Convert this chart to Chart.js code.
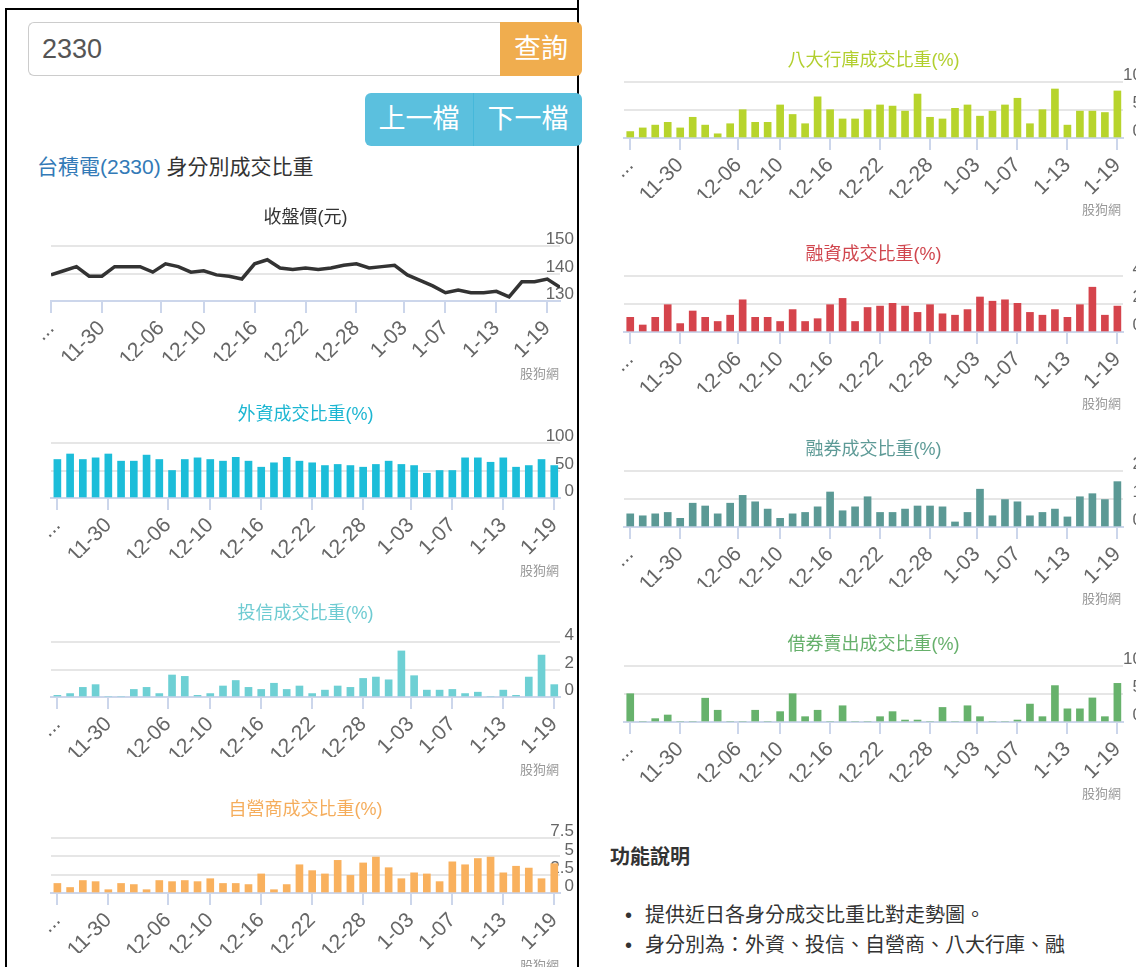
<!DOCTYPE html>
<html><head><meta charset="utf-8">
<script src="https://cdn.jsdelivr.net/npm/chart.js@4.4.1/dist/chart.umd.min.js"></script>
<style>
html,body{margin:0;padding:0;background:#fff;}
body{width:1136px;height:967px;overflow:hidden;position:relative;font-family:"Liberation Sans","Noto Sans CJK TC",sans-serif;}
.abs{position:absolute;}
#frameTop{left:5px;top:8px;width:573px;height:2px;background:#000;}
#frameLeft{left:5px;top:8px;width:2px;height:959px;background:#000;}
#divider{left:577px;top:0;width:2px;height:967px;background:#000;}
#input{left:28px;top:22px;width:472px;height:54px;box-sizing:border-box;border:1px solid #ccc;border-right:none;border-radius:6px 0 0 6px;font-size:27px;color:#555;line-height:52px;padding-left:13px;background:#fff;}
#query{left:500px;top:22px;width:82px;height:54px;background:#f0ad4e;border-radius:0 6px 6px 0;color:#fff;font-size:27px;line-height:54px;text-align:center;z-index:2;}
#btns{left:365px;top:93px;width:217px;height:53px;background:#5bc0de;border-radius:6px;color:#fff;font-size:27px;line-height:53px;z-index:2;}
#btns span{position:absolute;top:0;width:108px;text-align:center;}
#btnSep{position:absolute;left:108px;top:0;width:1px;height:53px;background:#46b8da;}
#heading{left:37px;top:152px;font-size:21px;line-height:30px;color:#333;white-space:nowrap;}
#heading .name{color:#337ab7;}
.credit{font-size:13px;color:#999;line-height:18px;white-space:nowrap;}
canvas.chart{position:absolute;}
#fnTitle{left:610px;top:843px;font-size:20px;font-weight:bold;color:#333;line-height:28px;}
.bullet{left:625px;font-size:20px;color:#333;line-height:28px;white-space:nowrap;}
.bullet b{display:inline-block;width:20px;font-weight:normal;}
</style></head>
<body>
<div id="frameTop" class="abs"></div>
<div id="frameLeft" class="abs"></div>
<div id="divider" class="abs"></div>
<div id="input" class="abs">2330</div>
<div id="query" class="abs">查詢</div>
<div id="btns" class="abs"><span style="left:0">上一檔</span><div id="btnSep"></div><span style="left:109px">下一檔</span></div>
<div id="heading" class="abs"><span class="name">台積電(2330)</span> 身分別成交比重</div>
<div id="fnTitle" class="abs">功能說明</div>
<div class="abs bullet" style="top:901px"><b>•</b>提供近日各身分成交比重比對走勢圖。</div>
<div class="abs bullet" style="top:931px"><b>•</b>身分別為：外資、投信、自營商、八大行庫、融</div>
<script>
// ---------- data ----------
const tradeDates = ['2015-11-24','2015-11-25','2015-11-26','2015-11-27','2015-11-30','2015-12-01','2015-12-02','2015-12-03','2015-12-04','2015-12-07',
  '2015-12-08','2015-12-09','2015-12-10','2015-12-11','2015-12-14','2015-12-15','2015-12-16','2015-12-17','2015-12-18','2015-12-21',
  '2015-12-22','2015-12-23','2015-12-24','2015-12-25','2015-12-28','2015-12-29','2015-12-30','2015-12-31','2016-01-04','2016-01-05',
  '2016-01-06','2016-01-07','2016-01-08','2016-01-11','2016-01-12','2016-01-13','2016-01-14','2016-01-15','2016-01-18','2016-01-19','2016-01-20'];
const tickDates = ['2015-11-24','2015-11-30','2015-12-06','2015-12-10','2015-12-16','2015-12-22','2015-12-28','2016-01-03','2016-01-07','2016-01-13','2016-01-19'];
const tickLabels = ['...','11-30','12-06','12-10','12-16','12-22','12-28','1-03','1-07','1-13','1-19'];

const closePrice = [139.5,141,142.5,139,139,142.5,142.5,142.5,140.5,143.5,142.5,140.5,141,139.5,139,138,143.5,145,142,141.5,
  142,141.5,142,143,143.5,142,142.5,143,139.5,137.5,135.5,133,134,133,133,133.5,131.5,137,137,138,135];
const foreignPct = [70,80,70,73,80,67,67,78,70,50,70,73,70,67,74,67,56,64,74,67,64,59,61,59,56,61,67,61,59,45,50,50,73,73,65,73,56,59,70,59];
const trustPct = [0.12,0.25,0.7,0.9,0,0,0.55,0.7,0.25,1.6,1.5,0.12,0.25,0.8,1.2,0.7,0.55,1.0,0.55,0.8,0.25,0.5,0.8,0.7,1.35,1.45,1.25,3.35,1.55,0.5,0.5,0.55,0.25,0.35,0,0.5,0.12,1.45,3.05,0.9];
const dealerPct = [1.3,0.75,1.7,1.55,0.45,1.3,1.15,0.45,1.7,1.55,1.7,1.55,1.95,1.3,1.3,1.15,2.6,0.45,1.15,3.85,3.05,2.6,4.45,2.4,4.1,4.9,3.45,1.95,2.75,2.6,1.55,4.25,3.85,4.7,4.9,2.75,3.65,3.4,1.95,4.0];
const bank8Pct = [1.15,1.8,2.3,2.8,1.8,3.7,2.3,0.75,2.55,5.05,2.8,2.8,5.9,4.2,2.55,7.35,5.05,3.4,3.4,5.05,5.9,5.7,4.8,7.85,3.7,3.4,5.3,5.9,3.9,4.8,5.9,7.1,2.55,5.05,8.75,2.3,4.8,4.8,4.55,8.4];
const marginPct = [1.05,0.5,1.05,1.95,0.6,1.5,1.05,0.75,1.2,2.3,1.05,1.05,0.75,1.6,0.75,0.95,1.95,2.4,0.75,1.75,1.85,2.05,1.85,1.4,1.95,1.3,1.2,1.6,2.5,2.2,2.3,2.05,1.4,1.2,1.6,1.05,1.95,3.2,1.2,1.85];
const shortPct = [0.47,0.4,0.47,0.52,0.31,0.85,0.75,0.47,0.85,1.13,0.9,0.64,0.31,0.47,0.52,0.72,1.25,0.58,0.72,1.08,0.52,0.52,0.64,0.75,0.75,0.72,0.18,0.52,1.35,0.4,0.98,0.9,0.4,0.52,0.64,0.36,1.08,1.19,0.98,1.62];
const sblPct = [5.05,0,0.6,1.25,0,0,4.25,2.1,0,0,2.1,0,1.85,5.05,0.95,2.1,0,2.9,0,0,0.95,1.85,0.35,0.35,0,2.6,0,2.9,0.95,0,0,0.35,3.2,0.95,6.5,2.35,2.35,4.3,0.95,6.9];

// ---------- helpers ----------
function dayNum(s){const p=s.split('-').map(Number);return Date.UTC(p[0],p[1]-1,p[2])/864e5;}
function ordinalPos(s){
  const t=dayNum(s);
  for(let i=0;i<tradeDates.length;i++){
    const a=dayNum(tradeDates[i]);
    if(a===t) return i;
    if(i+1<tradeDates.length){const b=dayNum(tradeDates[i+1]); if(t>a&&t<b) return i+(t-a)/(b-a);}
  }
  return 0;
}
const tickPos = tickDates.map(ordinalPos);
const FAM = '"Liberation Sans","Noto Sans CJK TC",sans-serif';
const X_AXIS_H = 60, EXTRA_BOTTOM = 30;

function makeChart(spec){
  const cv=document.createElement('canvas');
  cv.className='chart';
  cv.width=spec.w; cv.height=spec.plotBottom+15+X_AXIS_H+EXTRA_BOTTOM;
  cv.style.left=spec.left+'px'; cv.style.top=(spec.tc-15)+'px';
  document.body.appendChild(cv);
  const cr=document.createElement('div');
  cr.className='abs credit'; cr.textContent='股狗網';
  cr.style.left=spec.creditLeft+'px'; cr.style.top=(spec.tc+spec.creditOff)+'px';
  document.body.appendChild(cr);
  const isLine = spec.type==='line';
  const pts = spec.values.map((v,i)=>({x:i,y:v}));
  new Chart(cv,{
    type:spec.type,
    data:{datasets:[{data:pts,backgroundColor:spec.color,borderColor:spec.color,
      borderWidth:isLine?3.5:0,pointRadius:0,tension:0,barThickness:7}]},
    options:{
      responsive:false,animation:false,devicePixelRatio:1,
      layout:{padding:{left:46,right:0,top:0,bottom:EXTRA_BOTTOM}},
      plugins:{legend:{display:false},tooltip:{enabled:false},
        title:{display:true,text:spec.title,color:spec.titleColor,fullSize:false,
          font:{size:18,family:FAM,weight:'normal',lineHeight:'22px'},padding:{top:4,bottom:spec.plotTop-11}}},
      scales:{
        x:{type:'linear',min:isLine?0:-0.5,max:isLine?tradeDates.length-1:39.45,offset:false,
          afterBuildTicks:s=>{s.ticks=tickPos.map(v=>({value:v}));},
          afterFit:s=>{s.height=X_AXIS_H;},
          ticks:{autoSkip:false,minRotation:45,maxRotation:45,padding:3,color:'#666',
            font:{size:21,family:FAM},callback:(v,i)=>tickLabels[i]},
          grid:{drawOnChartArea:false,drawTicks:true,tickLength:12,color:'#ccd6eb',lineWidth:2,offset:false},
          border:{display:true,color:'#ccd6eb',width:2}},
        y:{position:'right',min:spec.yTicks[0],max:spec.yTicks[spec.yTicks.length-1],
          afterBuildTicks:s=>{s.ticks=spec.yTicks.map(v=>({value:v}));},
          afterFit:s=>{s.width=spec.yW;},
          ticks:{autoSkip:false,mirror:true,padding:spec.yW-3,labelOffset:-6.5,color:'#666',font:{size:17,family:FAM}},
          grid:{color:'#e6e6e6',lineWidth:2,drawTicks:false},
          border:{display:false}}
      }
    }
  });
}

const L={left:5,w:572,yW:17,creditLeft:520,plotTop:28,plotBottom:83,creditOff:147};
const R={left:578,w:567,yW:22,creditLeft:1082,plotTop:21,plotBottom:77,creditOff:140};
makeChart(Object.assign({},L,{tc:218,type:'line',values:closePrice,color:'#333',title:'收盤價(元)',titleColor:'#333',yTicks:[130,140,150]}));
makeChart(Object.assign({},L,{tc:415,type:'bar',values:foreignPct,color:'#1cbdd9',title:'外資成交比重(%)',titleColor:'#1cb6d2',yTicks:[0,50,100]}));
makeChart(Object.assign({},L,{tc:614,type:'bar',values:trustPct,color:'#6ed0d4',title:'投信成交比重(%)',titleColor:'#6ecbd2',yTicks:[0,2,4]}));
makeChart(Object.assign({},L,{tc:810,type:'bar',values:dealerPct,color:'#f9b15e',title:'自營商成交比重(%)',titleColor:'#f5ad5c',yTicks:[0,2.5,5,7.5]}));
makeChart(Object.assign({},R,{tc:61,type:'bar',values:bank8Pct,color:'#b7d42c',title:'八大行庫成交比重(%)',titleColor:'#b2cf2e',yTicks:[0,5,10]}));
makeChart(Object.assign({},R,{tc:255,type:'bar',values:marginPct,color:'#d5444c',title:'融資成交比重(%)',titleColor:'#d0464e',yTicks:[0,2,4]}));
makeChart(Object.assign({},R,{tc:450,type:'bar',values:shortPct,color:'#5b9995',title:'融券成交比重(%)',titleColor:'#5d9a96',yTicks:[0,1,2]}));
makeChart(Object.assign({},R,{tc:645,type:'bar',values:sblPct,color:'#67b26c',title:'借券賣出成交比重(%)',titleColor:'#66b06b',yTicks:[0,5,10]}));
</script>
</body></html>
